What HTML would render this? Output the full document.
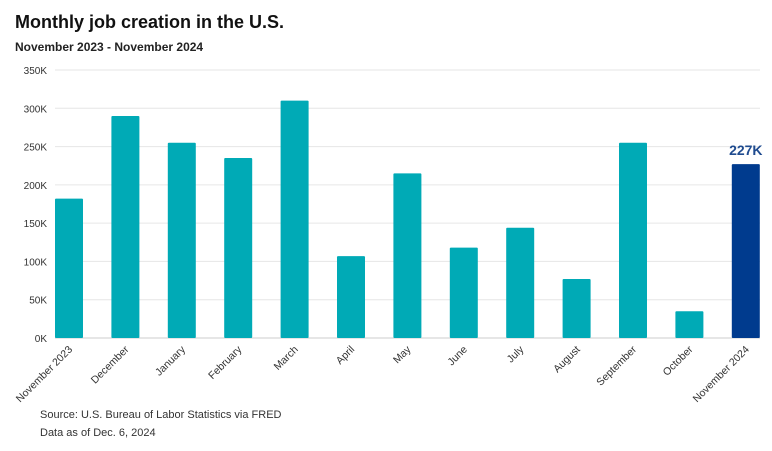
<!DOCTYPE html>
<html><head><meta charset="utf-8"><style>
body{margin:0;background:#fff;width:772px;height:446px;overflow:hidden;font-family:"Liberation Sans",sans-serif}
</style></head><body>
<svg width="772" height="446">
<text x="15" y="28" font-size="18" font-weight="bold" fill="#111">Monthly job creation in the U.S.</text>
<text x="15" y="51" font-size="12" font-weight="bold" fill="#222">November 2023 - November 2024</text>
<g id="grid"></g><g id="bars"></g><g id="xl"></g>
<text x="40" y="418" font-size="11" fill="#333">Source: U.S. Bureau of Labor Statistics via FRED</text>
<text x="40" y="436" font-size="11" fill="#333">Data as of Dec. 6, 2024</text>
</svg>
<script>
const categories=["November 2023","December","January","February","March","April","May","June","July","August","September","October","November 2024"];
const values=[182,290,255,235,310,107,215,118,144,77,255,35,227];
const yTicks=[0,50,100,150,200,250,300,350];
const ns="http://www.w3.org/2000/svg";
const y0=338,yTop=70,maxV=350;
function y(v){return y0-(y0-yTop)*v/maxV;}
function xc(i){return 69+56.4*i;}
function mk(t,a,p){const e=document.createElementNS(ns,t);for(const k in a)e.setAttribute(k,a[k]);p.appendChild(e);return e;}
const g=document.getElementById('grid'),b=document.getElementById('bars'),xl=document.getElementById('xl');
yTicks.forEach(t=>{
 const l=mk('line',{x1:55,x2:760,y1:y(t),y2:y(t),stroke:t?'#e6e6e6':'#ccc','stroke-width':1},g);
 
 
 const tx=mk('text',{x:47,y:y(t)+4,'text-anchor':'end','font-size':10,fill:'#333'},g);
 tx.textContent=t?t+'K':'0K';
 
 
});
values.forEach((v,i)=>{
 const last=i===values.length-1;
 const r=mk('rect',{x:xc(i)-14,y:y(v),width:28,height:y0-y(v),fill:last?'#003B8E':'#00AAB6',rx:1},b);
 
 
 const t=mk('text',{'text-anchor':'end','font-size':10.5,fill:'#333',transform:`translate(${xc(i)+4},${y0+12}) rotate(-45)`},xl);
 t.textContent=categories[i];
 
 
 if(last){
  const lb=mk('text',{x:xc(i),y:y(v)-9,'text-anchor':'middle','font-size':14,'font-weight':'bold',fill:'#1F4B8F'},b);
  lb.textContent=v+'K';
  
  
 }
});
</script>
</body></html>
